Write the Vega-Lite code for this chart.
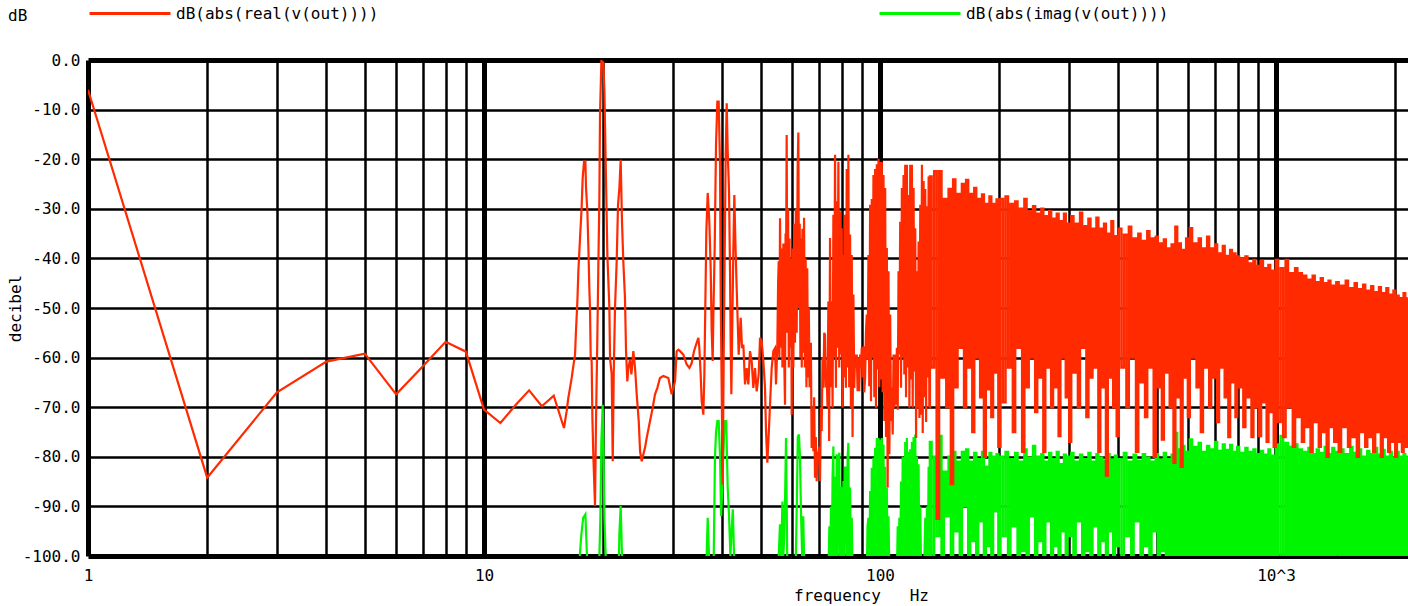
{
"$schema": "https://vega.github.io/schema/vega-lite/v6.json",
"width": 1320, "height": 496,
"padding": {"left": 88, "top": 60, "right": 0, "bottom": 50},
"autosize": {"type": "none"},
"background": "white",
"config": {"view": {"stroke": null}, "font": "DejaVu Sans Mono"},
"title": {"text": "dB", "anchor": "start", "frame": "group", "orient": "top", "offset": 0, "dx": -80, "dy": 60, "font": "DejaVu Sans Mono", "fontSize": 16, "fontWeight": "normal", "color": "black", "baseline": "middle"},
"datasets": {
"red": [
{"f":1,"v":-6},{"f":2,"v":-84.2},{"f":3,"v":-67},{"f":4,"v":-60.8},{"f":5,"v":-59.2},{"f":6,"v":-67.4},{"f":7,"v":-61.8},{"f":8,"v":-56.8},{"f":9,"v":-58.8},{"f":10,"v":-70.5},{"f":11,"v":-73.2},{"f":12,"v":-69.6},{"f":13,"v":-66.6},{"f":14,"v":-69.8},{"f":15,"v":-67.7},{"f":15.92,"v":-74.2},
{"f":16.17,"v":-70.8},{"f":16.33,"v":-68.1},{"f":16.49,"v":-66.1},{"f":16.65,"v":-64.1},{"f":16.81,"v":-61.7},{"f":16.98,"v":-59.4},{"f":17.07,"v":-54.7},{"f":17.21,"v":-48.7},{"f":17.31,"v":-42.6},{"f":17.48,"v":-35.9},{"f":17.64,"v":-29.9},{"f":17.75,"v":-23.8},{"f":17.89,"v":-20.5},{"f":18.03,"v":-20.5},{"f":18.1,"v":-25.8},{"f":18.24,"v":-30.5},{"f":18.35,"v":-37.9},{"f":18.45,"v":-46},{"f":18.52,"v":-50},{"f":18.6,"v":-60.1},{"f":18.7,"v":-60.7},{"f":18.78,"v":-72.1},{"f":18.88,"v":-79.5},{"f":19.07,"v":-89.9},{"f":19.18,"v":-72.8},{"f":19.33,"v":-56},{"f":19.44,"v":-41.9},{"f":19.56,"v":-27.9},{"f":19.63,"v":-11.1},{"f":19.79,"v":-0.2},{"f":20.02,"v":-0.5},{"f":20.14,"v":-6.4},{"f":20.29,"v":-20.5},{"f":20.49,"v":-39.3},{"f":20.73,"v":-50},{"f":20.81,"v":-60.1},{"f":21.01,"v":-63.4},{"f":21.14,"v":-80.9},{"f":21.26,"v":-63.4},{"f":21.42,"v":-50},{"f":21.63,"v":-40.6},{"f":21.8,"v":-29.2},{"f":21.97,"v":-25.8},{"f":22.14,"v":-20.1},{"f":22.31,"v":-32.6},{"f":22.48,"v":-40.6},{"f":22.7,"v":-48},{"f":22.84,"v":-58.7},{"f":23.01,"v":-64.8},{"f":23.15,"v":-62.1},{"f":23.37,"v":-60.4},{"f":23.56,"v":-63.4},{"f":23.83,"v":-58.7},{"f":24.07,"v":-62.1},{"f":24.3,"v":-67.4},{"f":24.59,"v":-72.8},{"f":24.78,"v":-78.9},{"f":25.02,"v":-80.9},{"f":25.26,"v":-79.5},{"f":25.5,"v":-78.2},{"f":25.75,"v":-76.2},{"f":26.26,"v":-72.8},{"f":26.67,"v":-70.1},{"f":27.03,"v":-67.4},{"f":27.4,"v":-66.1},{"f":27.82,"v":-64.1},{"f":28.37,"v":-63.7},{"f":29.21,"v":-64.1},{"f":29.78,"v":-67.4},{"f":30.37,"v":-64.8},{"f":30.66,"v":-58.7},{"f":30.96,"v":-58.4},{"f":31.26,"v":-58.7},{"f":31.87,"v":-59.4},{"f":32.5,"v":-61.4},{"f":33.01,"v":-62.1},{"f":33.46,"v":-61.1},{"f":33.91,"v":-58.7},{"f":34.31,"v":-57.4},{"f":34.78,"v":-56},{"f":34.98,"v":-58.1},{"f":35.25,"v":-63.4},{"f":35.46,"v":-68.8},{"f":35.8,"v":-71.5},{"f":36.01,"v":-63.4},{"f":36.22,"v":-49.3},{"f":36.43,"v":-34.6},{"f":36.72,"v":-26.8},{"f":37.07,"v":-32.6},{"f":37.36,"v":-42},{"f":37.58,"v":-54.7},{"f":37.8,"v":-60.7},{"f":37.95,"v":-51.3},{"f":38.24,"v":-37.9},{"f":38.54,"v":-17.1},{"f":38.84,"v":-8.4},{"f":39.14,"v":-8.4},{"f":39.45,"v":-21.1},{"f":39.6,"v":-47.3},{"f":39.83,"v":-66.1},{"f":40.06,"v":-85.6},{"f":40.3,"v":-59.4},{"f":40.53,"v":-39.3},{"f":40.77,"v":-19.1},{"f":41.01,"v":-8.7},{"f":41.25,"v":-18.5},{"f":41.57,"v":-26.5},{"f":41.81,"v":-42.6},{"f":41.97,"v":-57.4},{"f":42.13,"v":-67.4},{"f":42.38,"v":-52.7},{"f":42.63,"v":-37.9},{"f":42.87,"v":-27.2},{"f":43.13,"v":-36.6},{"f":43.46,"v":-46},{"f":43.72,"v":-52.7},{"f":43.97,"v":-59.4},{"f":44.49,"v":-52},{"f":44.83,"v":-58.1},{"f":45.18,"v":-57.4},{"f":45.62,"v":-65.4},{"f":46.07,"v":-62.1},{"f":46.51,"v":-65.4},{"f":46.96,"v":-58.7},{"f":47.42,"v":-60.7},{"f":47.88,"v":-66.1},{"f":48.35,"v":-62.1},{"f":48.82,"v":-66.8},{"f":49.39,"v":-63.4},{"f":49.78,"v":-56},{"f":50.26,"v":-56.7},{"f":50.75,"v":-60.7},{"f":51.24,"v":-66.1},{"f":51.54,"v":-74.8},{"f":51.94,"v":-81.2},{"f":52.35,"v":-75.5},{"f":52.75,"v":-69.5},{"f":53.27,"v":-62.1},{"f":53.79,"v":-58.7},{"f":54.31,"v":-58.1},{"f":54.63,"v":-65.4},{"f":55.05,"v":-57.4},
{"f":55.3,"v":-45},{"f":55.49,"v":-40.6},{"f":55.7,"v":-60},{"f":55.92,"v":-31.9},{"f":56.2,"v":-58},{"f":56.46,"v":-38},{"f":56.7,"v":-62},{"f":57.01,"v":-37},{"f":57.3,"v":-60},{"f":57.56,"v":-69.5},{"f":57.75,"v":-35},{"f":57.9,"v":-44},{"f":58.12,"v":-15.1},{"f":58.35,"v":-55},{"f":58.6,"v":-30},{"f":58.85,"v":-62},{"f":59.1,"v":-36},{"f":59.4,"v":-58},{"f":59.65,"v":-40},{"f":59.84,"v":-71.5},{"f":60.1,"v":-38},{"f":60.42,"v":-62},{"f":60.7,"v":-33},{"f":61,"v":-57},{"f":61.3,"v":-30},{"f":61.6,"v":-55},{"f":61.95,"v":-22},{"f":62.2,"v":-14.6},{"f":62.45,"v":-50},{"f":62.7,"v":-33},{"f":62.95,"v":-60},{"f":63.2,"v":-36},{"f":63.45,"v":-62},{"f":63.7,"v":-34},{"f":64,"v":-59},{"f":64.3,"v":-31.8},{"f":64.6,"v":-62},{"f":64.9,"v":-40},{"f":65.2,"v":-66},{"f":65.5,"v":-42},{"f":65.8,"v":-64},{"f":66.1,"v":-50},{"f":66.4,"v":-66},
{"f":66.9,"v":-57},{"f":67.21,"v":-78.2},{"f":67.5,"v":-70},{"f":67.87,"v":-78.9},{"f":68.2,"v":-68},{"f":68.53,"v":-84.2},{"f":68.85,"v":-76},{"f":69.2,"v":-84.9},{"f":69.5,"v":-79},{"f":69.87,"v":-80.2},{"f":70.2,"v":-78},{"f":70.56,"v":-84.9},{"f":70.9,"v":-70},{"f":71.24,"v":-74.8},{"f":71.6,"v":-60},{"f":71.94,"v":-66.1},{"f":72.3,"v":-55},
{"f":72.64,"v":-55.4},{"f":73,"v":-66},{"f":73.35,"v":-63.4},{"f":73.7,"v":-70},{"f":74.07,"v":-48.7},{"f":74.4,"v":-76.8},{"f":74.79,"v":-35.9},{"f":75.15,"v":-66},{"f":75.52,"v":-48.7},{"f":75.9,"v":-70.1},{"f":76.26,"v":-31.2},{"f":76.6,"v":-60},{"f":77,"v":-19.1},{"f":77.4,"v":-66.1},{"f":77.75,"v":-28.5},{"f":78.1,"v":-58},{"f":78.51,"v":-20.5},{"f":78.9,"v":-62},{"f":79.27,"v":-30.5},{"f":79.65,"v":-59.4},{"f":80.05,"v":-33.9},{"f":80.45,"v":-70.1},{"f":80.83,"v":-39.3},{"f":81.2,"v":-64},{"f":81.61,"v":-31.2},{"f":82,"v":-66.1},{"f":82.41,"v":-22},{"f":82.8,"v":-62},{"f":83.21,"v":-19.1},{"f":83.6,"v":-66},{"f":84.03,"v":-35.2},{"f":84.45,"v":-70.1},{"f":84.85,"v":-39.3},{"f":85.25,"v":-76},{"f":85.67,"v":-47.3},{"f":86.1,"v":-66.1},{"f":86.51,"v":-59.4},
{"f":86.9,"v":-62},{"f":87.36,"v":-59.4},{"f":87.8,"v":-66.8},{"f":88.21,"v":-60},{"f":88.6,"v":-66.8},{"f":89.07,"v":-59.4},{"f":89.5,"v":-62},{"f":89.94,"v":-58},{"f":90.4,"v":-64},{"f":90.82,"v":-57.7},{"f":91.25,"v":-67},{"f":91.71,"v":-64},{"f":92.15,"v":-55},{"f":92.6,"v":-51.3},
{"f":93.05,"v":-60.4},{"f":93.51,"v":-39.3},{"f":93.95,"v":-65.8},{"f":94.42,"v":-29.2},{"f":94.9,"v":-68.8},{"f":95.34,"v":-28},{"f":95.8,"v":-60},{"f":96.27,"v":-23.2},{"f":96.75,"v":-68},{"f":97.21,"v":-22},{"f":97.7,"v":-70.1},{"f":98.16,"v":-21},{"f":98.6,"v":-62.4},{"f":99.12,"v":-19.9},{"f":99.6,"v":-66},{"f":100.09,"v":-20.5},{"f":100.6,"v":-64.4},{"f":101.06,"v":-20.5},{"f":101.55,"v":-67},{"f":102.05,"v":-23.2},{"f":102.55,"v":-72.8},{"f":103.05,"v":-25.8},{"f":103.55,"v":-76},{"f":104.05,"v":-37.9},{"f":104.55,"v":-86.2},{"f":105.07,"v":-42.6},{"f":105.6,"v":-79.5},{"f":106.09,"v":-51.3},{"f":106.6,"v":-72.8},
{"f":107.13,"v":-66.1},{"f":107.65,"v":-75.5},{"f":108.18,"v":-59.4},{"f":108.7,"v":-70.1},{"f":109.23,"v":-59.4},{"f":109.75,"v":-69.5},{"f":110.3,"v":-58},{"f":110.85,"v":-70.5},
{"f":111.38,"v":-42.6},{"f":111.9,"v":-59.4},{"f":112.47,"v":-32.6},{"f":113,"v":-66.1},{"f":113.56,"v":-25.8},{"f":114.1,"v":-60},{"f":114.67,"v":-23.2},{"f":115.2,"v":-63.4},{"f":115.79,"v":-21.1},{"f":116.35,"v":-68},{"f":116.93,"v":-21.1},{"f":117.5,"v":-62},{"f":118.07,"v":-27.2},{"f":118.65,"v":-70.1},{"f":119.22,"v":-21.1},{"f":119.8,"v":-64.4},{"f":120.39,"v":-21.1},{"f":120.95,"v":-70.1},{"f":121.56,"v":-25.8},{"f":122.15,"v":-62.8},{"f":122.75,"v":-33.9},{"f":123.35,"v":-76.2},{"f":123.95,"v":-42.6},{"f":124.55,"v":-70.1},{"f":125.16,"v":-36.6},{"f":125.75,"v":-72.2},{"f":126.38,"v":-29.2},{"f":127,"v":-71.5},{"f":127.62,"v":-21.1},{"f":128.2,"v":-75.2},
{"f":128.86,"v":-24.4},{"f":129.5,"v":-68},{"f":130.12,"v":-26},{"f":130.75,"v":-73},{"f":131.39,"v":-29.5},{"f":132,"v":-64},{"f":132.68,"v":-23.5},{"f":133.3,"v":-70},
{"f":134,"v":-23.5},{"f":136,"v":-62},{"f":138,"v":-22.4},{"f":140,"v":-92.5},{"f":142,"v":-22.4},{"f":144,"v":-64},{"f":146,"v":-28},{"f":148,"v":-70},{"f":150,"v":-26},{"f":152,"v":-85.5},{"f":154,"v":-24.1},{"f":156,"v":-66},{"f":158,"v":-27},{"f":160,"v":-58},{"f":162,"v":-25},{"f":164,"v":-70},{"f":166,"v":-24.2},{"f":168,"v":-62},{"f":170,"v":-27},{"f":172,"v":-75},{"f":174,"v":-25.8},{"f":176,"v":-60},{"f":178,"v":-28},{"f":180,"v":-68},{"f":182,"v":-27.1},{"f":184,"v":-80},{"f":186,"v":-29},{"f":188,"v":-66.4},{"f":190,"v":-27.5},{"f":192,"v":-72},{"f":194,"v":-29},{"f":196,"v":-63},{"f":198,"v":-28.1},{"f":200,"v":-78},
{"f":203,"v":-28},{"f":206,"v":-69},{"f":209,"v":-27.5},{"f":212,"v":-62},{"f":215,"v":-29},{"f":218,"v":-75},{"f":221,"v":-28.5},{"f":224,"v":-58},{"f":227,"v":-30},{"f":230,"v":-79},{"f":233,"v":-28},{"f":236,"v":-66},{"f":239,"v":-30.5},{"f":242,"v":-60},{"f":245,"v":-29.5},{"f":248,"v":-71},{"f":251,"v":-31},{"f":254,"v":-64},{"f":257,"v":-30},{"f":260,"v":-79},{"f":263,"v":-31.5},{"f":266,"v":-62},{"f":269,"v":-30.5},{"f":272,"v":-70},{"f":275,"v":-32},{"f":278,"v":-66},{"f":281,"v":-31},{"f":284,"v":-75.8},{"f":287,"v":-32.5},{"f":290,"v":-60},{"f":293,"v":-31},{"f":296,"v":-68},{"f":299,"v":-33},
{"f":302,"v":-77},{"f":306,"v":-31.5},{"f":310,"v":-63},{"f":314,"v":-33},{"f":318,"v":-70},{"f":322,"v":-30.8},{"f":326,"v":-58},{"f":330,"v":-33.5},{"f":334,"v":-72},{"f":338,"v":-32},{"f":342,"v":-64},{"f":346,"v":-34},{"f":350,"v":-62},{"f":354,"v":-31.8},{"f":358,"v":-79},{"f":362,"v":-34},{"f":366,"v":-66},{"f":370,"v":-33},{"f":374,"v":-83.8},{"f":378,"v":-35},{"f":382,"v":-64},{"f":386,"v":-32.5},{"f":390,"v":-70},{"f":394,"v":-35.5},{"f":398,"v":-75.8},
{"f":404,"v":-34},{"f":410,"v":-62},{"f":416,"v":-35.2},{"f":422,"v":-70},{"f":428,"v":-33.6},{"f":434,"v":-60},{"f":440,"v":-36},{"f":446,"v":-79},{"f":452,"v":-35},{"f":458,"v":-65},{"f":464,"v":-36.5},{"f":470,"v":-72},{"f":476,"v":-34.5},{"f":482,"v":-62},{"f":488,"v":-36},{"f":494,"v":-80},{"f":500,"v":-35.6},{"f":506,"v":-66},{"f":512,"v":-37},{"f":518,"v":-76.5},{"f":524,"v":-36.2},{"f":530,"v":-63},{"f":536,"v":-38},{"f":542,"v":-70},{"f":548,"v":-37.2},{"f":554,"v":-81.2},{"f":560,"v":-33.6},{"f":566,"v":-68},{"f":572,"v":-37},{"f":578,"v":-82},{"f":584,"v":-38.3},{"f":590,"v":-64},{"f":596,"v":-36},
{"f":602,"v":-72},{"f":610,"v":-33.9},{"f":618,"v":-60},{"f":626,"v":-37},{"f":634,"v":-66},{"f":642,"v":-36},{"f":650,"v":-75},{"f":658,"v":-38},{"f":666,"v":-62},{"f":674,"v":-35.6},{"f":682,"v":-70},{"f":690,"v":-38},{"f":698,"v":-64},{"f":706,"v":-37.2},{"f":714,"v":-73},{"f":722,"v":-39},{"f":730,"v":-62},{"f":738,"v":-37.5},{"f":746,"v":-68},{"f":754,"v":-39.5},{"f":762,"v":-76},{"f":770,"v":-38.3},{"f":778,"v":-65},{"f":786,"v":-39},{"f":794,"v":-72},
{"f":802,"v":-39.6},{"f":812,"v":-66},{"f":822,"v":-40},{"f":832,"v":-74},{"f":842,"v":-39.6},{"f":852,"v":-68},{"f":862,"v":-41},{"f":872,"v":-76},{"f":882,"v":-40.3},{"f":892,"v":-70},{"f":902,"v":-41.5},{"f":912,"v":-75.8},{"f":922,"v":-40.5},{"f":932,"v":-69},{"f":942,"v":-42},{"f":952,"v":-77},{"f":962,"v":-41.3},{"f":972,"v":-71},{"f":982,"v":-42.5},{"f":992,"v":-78},
{"f":1005,"v":-40.3},{"f":1020,"v":-73},{"f":1035,"v":-42},{"f":1050,"v":-76},{"f":1065,"v":-40.3},{"f":1080,"v":-70},{"f":1095,"v":-43},{"f":1110,"v":-78},{"f":1125,"v":-42},{"f":1140,"v":-72},{"f":1155,"v":-43},{"f":1170,"v":-77},{"f":1185,"v":-43.5},{"f":1200,"v":-74},{"f":1215,"v":-44.3},{"f":1230,"v":-79},{"f":1245,"v":-43.5},{"f":1260,"v":-73},{"f":1275,"v":-44.8},{"f":1290,"v":-78},{"f":1305,"v":-44},{"f":1320,"v":-75},{"f":1335,"v":-45},{"f":1350,"v":-80},{"f":1365,"v":-44.5},{"f":1380,"v":-74},{"f":1395,"v":-45.5},
{"f":1410,"v":-77},{"f":1430,"v":-44.8},{"f":1450,"v":-79},{"f":1470,"v":-45.5},{"f":1490,"v":-74},{"f":1510,"v":-44.5},{"f":1530,"v":-78},{"f":1550,"v":-46},{"f":1570,"v":-76},{"f":1590,"v":-45},{"f":1610,"v":-80},{"f":1630,"v":-46.2},{"f":1650,"v":-75},{"f":1670,"v":-45.3},{"f":1690,"v":-78},{"f":1710,"v":-46.5},{"f":1730,"v":-76},{"f":1750,"v":-45.6},{"f":1770,"v":-79},{"f":1790,"v":-46.8},{"f":1810,"v":-75},{"f":1830,"v":-45.8},{"f":1850,"v":-80},{"f":1870,"v":-47},{"f":1890,"v":-76},{"f":1910,"v":-46},{"f":1930,"v":-79},{"f":1950,"v":-47.3},{"f":1970,"v":-77},{"f":1990,"v":-46.5},{"f":2010,"v":-80},{"f":2030,"v":-47.5},{"f":2050,"v":-77},{"f":2070,"v":-48},{"f":2090,"v":-79},{"f":2110,"v":-47},{"f":2130,"v":-78},{"f":2150,"v":-48}
],
"green": [
{"f":16.9,"v":-110},{"f":17.3,"v":-104},{"f":17.6,"v":-96},{"f":17.8,"v":-92.3},{"f":18.03,"v":-91.6},{"f":18.2,"v":-100},{"f":18.4,"v":-110},{"f":19.4,"v":-110},{"f":19.56,"v":-100},{"f":19.67,"v":-92.3},{"f":19.79,"v":-76.8},{"f":19.94,"v":-69.5},{"f":20.02,"v":-76.8},{"f":20.14,"v":-92.3},{"f":20.29,"v":-100},{"f":20.5,"v":-110},{"f":21.8,"v":-110},{"f":21.97,"v":-95.6},{"f":22.14,"v":-89.9},{"f":22.31,"v":-100},{"f":22.5,"v":-110},
{"f":36.3,"v":-110},{"f":36.5,"v":-100},{"f":36.72,"v":-92.3},{"f":37,"v":-100},{"f":37.2,"v":-110},{"f":37.9,"v":-110},{"f":38.1,"v":-95},{"f":38.3,"v":-80.2},{"f":38.54,"v":-75},{"f":38.84,"v":-72.8},{"f":39.14,"v":-72.8},{"f":39.45,"v":-80},{"f":39.7,"v":-92},{"f":39.95,"v":-87},{"f":40.2,"v":-80},{"f":40.53,"v":-72.8},{"f":40.9,"v":-72.8},{"f":41.25,"v":-86.2},{"f":41.57,"v":-91.9},{"f":41.9,"v":-100},{"f":42.13,"v":-96},{"f":42.5,"v":-90.6},{"f":42.8,"v":-100},{"f":43,"v":-110},
{"f":55,"v":-110},{"f":55.5,"v":-100},{"f":55.9,"v":-93.6},{"f":56.3,"v":-100},{"f":56.7,"v":-89},{"f":57,"v":-100},{"f":57.3,"v":-96},{"f":57.6,"v":-88},{"f":57.9,"v":-76.2},{"f":58.3,"v":-100},{"f":58.7,"v":-110},{"f":60.8,"v":-110},{"f":61.3,"v":-100},{"f":61.7,"v":-88},{"f":62,"v":-76},{"f":62.4,"v":-75.5},{"f":62.8,"v":-80},{"f":63.2,"v":-92},{"f":63.6,"v":-100},{"f":64,"v":-92},{"f":64.3,"v":-100},{"f":64.6,"v":-110},
{"f":73.5,"v":-110},{"f":74.07,"v":-104},{"f":74.5,"v":-94},{"f":74.79,"v":-104},{"f":75.2,"v":-90},{"f":75.52,"v":-104},{"f":75.9,"v":-84},{"f":76.26,"v":-77.9},{"f":76.6,"v":-104},{"f":77,"v":-84},{"f":77.4,"v":-104},{"f":77.75,"v":-79.5},{"f":78.1,"v":-104},{"f":78.5,"v":-80},{"f":78.96,"v":-79.2},{"f":79.3,"v":-104},{"f":79.7,"v":-86},{"f":80.05,"v":-88.9},{"f":80.45,"v":-104},{"f":80.83,"v":-84.9},{"f":81.2,"v":-104},{"f":81.6,"v":-82.2},{"f":82.09,"v":-82.2},{"f":82.5,"v":-104},{"f":82.85,"v":-80},{"f":83.21,"v":-77.2},{"f":83.6,"v":-104},{"f":84.03,"v":-86.2},{"f":84.45,"v":-104},{"f":84.85,"v":-92.3},{"f":85.3,"v":-104},{"f":85.67,"v":-100},{"f":86.2,"v":-110},
{"f":92.2,"v":-110},{"f":92.6,"v":-104},{"f":93,"v":-94},{"f":93.5,"v":-92.3},{"f":93.9,"v":-104},{"f":94.42,"v":-86.9},{"f":94.9,"v":-104},{"f":95.34,"v":-82.2},{"f":95.8,"v":-104},{"f":96.27,"v":-80.2},{"f":96.75,"v":-104},{"f":97.21,"v":-78.2},{"f":97.7,"v":-104},{"f":98.16,"v":-76.2},{"f":98.6,"v":-104},{"f":99.12,"v":-76.2},{"f":99.6,"v":-104},{"f":100.09,"v":-76.5},{"f":100.6,"v":-104},{"f":101.06,"v":-76.2},{"f":101.55,"v":-104},{"f":102.05,"v":-77.5},{"f":102.55,"v":-104},{"f":103.05,"v":-82},{"f":103.55,"v":-104},{"f":104.05,"v":-86.2},{"f":104.55,"v":-104},{"f":105.07,"v":-92},{"f":105.6,"v":-104},{"f":106.09,"v":-100},{"f":106.6,"v":-110},
{"f":109.8,"v":-110},{"f":110.3,"v":-104},{"f":110.85,"v":-94},{"f":111.38,"v":-104},{"f":111.9,"v":-92.3},{"f":112.47,"v":-104},{"f":113,"v":-85},{"f":113.56,"v":-104},{"f":114.1,"v":-80},{"f":114.67,"v":-81.2},{"f":115.2,"v":-104},{"f":115.79,"v":-77},{"f":116.35,"v":-104},{"f":116.93,"v":-76.2},{"f":117.5,"v":-104},{"f":118.07,"v":-79},{"f":118.65,"v":-104},{"f":119.22,"v":-78.5},{"f":119.8,"v":-104},{"f":120.39,"v":-77},{"f":120.95,"v":-104},{"f":121.56,"v":-76},{"f":122.15,"v":-104},{"f":122.75,"v":-75.5},{"f":123.35,"v":-104},{"f":123.95,"v":-80},{"f":124.55,"v":-104},{"f":125.16,"v":-81.5},{"f":125.75,"v":-104},{"f":126.38,"v":-90},{"f":127,"v":-104},{"f":127.62,"v":-100},{"f":128.2,"v":-110},{"f":129.5,"v":-100},{"f":130.12,"v":-92.3},{"f":130.75,"v":-104},{"f":131.39,"v":-90},{"f":132,"v":-104},{"f":132.68,"v":-82},{"f":133.3,"v":-104},
{"f":134,"v":-77},{"f":136,"v":-104},{"f":138,"v":-80},{"f":140,"v":-96},{"f":142,"v":-75.8},{"f":144,"v":-104},{"f":146,"v":-83},{"f":148,"v":-92},{"f":150,"v":-80},{"f":152,"v":-104},{"f":154,"v":-79},{"f":156,"v":-95},{"f":158,"v":-81},{"f":160,"v":-104},{"f":162,"v":-79},{"f":164,"v":-90},{"f":166,"v":-78.5},{"f":168,"v":-104},{"f":170,"v":-81},{"f":172,"v":-97},{"f":174,"v":-79.2},{"f":176,"v":-104},{"f":178,"v":-80.5},{"f":180,"v":-93},{"f":182,"v":-79},{"f":184,"v":-104},{"f":186,"v":-82},{"f":188,"v":-98},{"f":190,"v":-79.2},{"f":192,"v":-104},{"f":194,"v":-80},{"f":196,"v":-91},{"f":198,"v":-79.5},{"f":200,"v":-104},
{"f":203,"v":-80},{"f":206,"v":-96},{"f":209,"v":-79},{"f":212,"v":-104},{"f":215,"v":-80.5},{"f":218,"v":-94},{"f":221,"v":-79.2},{"f":224,"v":-104},{"f":227,"v":-81},{"f":230,"v":-99},{"f":233,"v":-78.5},{"f":236,"v":-104},{"f":239,"v":-80.2},{"f":242,"v":-92},{"f":245,"v":-77.8},{"f":248,"v":-104},{"f":251,"v":-80},{"f":254,"v":-97},{"f":257,"v":-79.5},{"f":260,"v":-104},{"f":263,"v":-81},{"f":266,"v":-93},{"f":269,"v":-79.2},{"f":272,"v":-104},{"f":275,"v":-80.5},{"f":278,"v":-98},{"f":281,"v":-79},{"f":284,"v":-104},{"f":287,"v":-81.5},{"f":290,"v":-95},{"f":293,"v":-79.6},{"f":296,"v":-104},{"f":299,"v":-80},
{"f":302,"v":-96},{"f":306,"v":-79.2},{"f":310,"v":-104},{"f":314,"v":-81},{"f":318,"v":-93},{"f":322,"v":-79.6},{"f":326,"v":-104},{"f":330,"v":-80.5},{"f":334,"v":-99},{"f":338,"v":-79.2},{"f":342,"v":-104},{"f":346,"v":-81},{"f":350,"v":-94},{"f":354,"v":-79.5},{"f":358,"v":-104},{"f":362,"v":-80.2},{"f":366,"v":-97},{"f":370,"v":-80.8},{"f":374,"v":-104},{"f":378,"v":-79.5},{"f":382,"v":-95},{"f":386,"v":-80.6},{"f":390,"v":-104},{"f":394,"v":-79.8},{"f":398,"v":-98},
{"f":404,"v":-80.5},{"f":410,"v":-104},{"f":416,"v":-79.2},{"f":422,"v":-96},{"f":428,"v":-81},{"f":434,"v":-104},{"f":440,"v":-79.6},{"f":446,"v":-93},{"f":452,"v":-80.8},{"f":458,"v":-104},{"f":464,"v":-79.5},{"f":470,"v":-98},{"f":476,"v":-80.2},{"f":482,"v":-104},{"f":488,"v":-81},{"f":494,"v":-95},{"f":500,"v":-79.5},{"f":506,"v":-104},{"f":512,"v":-80.6},{"f":518,"v":-99},{"f":524,"v":-79.2},{"f":530,"v":-104},{"f":536,"v":-80.5},{"f":542,"v":-104},{"f":548,"v":-79.6},{"f":554,"v":-104},{"f":560,"v":-75.2},{"f":566,"v":-104},{"f":572,"v":-78.5},{"f":578,"v":-104},{"f":584,"v":-77.8},{"f":590,"v":-104},{"f":596,"v":-79},
{"f":602,"v":-104},{"f":610,"v":-76.5},{"f":618,"v":-104},{"f":626,"v":-78},{"f":634,"v":-104},{"f":642,"v":-77.2},{"f":650,"v":-104},{"f":658,"v":-79},{"f":666,"v":-104},{"f":674,"v":-77.8},{"f":682,"v":-104},{"f":690,"v":-78.5},{"f":698,"v":-104},{"f":706,"v":-77},{"f":714,"v":-104},{"f":722,"v":-78.8},{"f":730,"v":-104},{"f":738,"v":-77.5},{"f":746,"v":-104},{"f":754,"v":-78.6},{"f":762,"v":-104},{"f":770,"v":-77.6},{"f":778,"v":-104},{"f":786,"v":-79},{"f":794,"v":-104},
{"f":802,"v":-78},{"f":812,"v":-104},{"f":822,"v":-79.2},{"f":832,"v":-104},{"f":842,"v":-78.2},{"f":852,"v":-104},{"f":862,"v":-79},{"f":872,"v":-104},{"f":882,"v":-78.5},{"f":892,"v":-104},{"f":902,"v":-79.5},{"f":912,"v":-104},{"f":922,"v":-78.8},{"f":932,"v":-104},{"f":942,"v":-79.6},{"f":952,"v":-104},{"f":962,"v":-78.5},{"f":972,"v":-104},{"f":982,"v":-79.8},{"f":992,"v":-104},
{"f":1005,"v":-77.5},{"f":1020,"v":-104},{"f":1035,"v":-75.8},{"f":1050,"v":-104},{"f":1065,"v":-77.2},{"f":1080,"v":-104},{"f":1095,"v":-78},{"f":1110,"v":-104},{"f":1125,"v":-77.5},{"f":1140,"v":-104},{"f":1155,"v":-78.5},{"f":1170,"v":-104},{"f":1185,"v":-79},{"f":1200,"v":-104},{"f":1215,"v":-78.2},{"f":1230,"v":-104},{"f":1245,"v":-79.5},{"f":1260,"v":-104},{"f":1275,"v":-78.5},{"f":1290,"v":-104},{"f":1305,"v":-79.2},{"f":1320,"v":-104},{"f":1335,"v":-78},{"f":1350,"v":-104},{"f":1365,"v":-79.5},{"f":1380,"v":-104},{"f":1395,"v":-78.2},
{"f":1410,"v":-104},{"f":1430,"v":-79},{"f":1450,"v":-104},{"f":1470,"v":-78.5},{"f":1490,"v":-104},{"f":1510,"v":-79.5},{"f":1530,"v":-104},{"f":1550,"v":-78},{"f":1570,"v":-104},{"f":1590,"v":-79.2},{"f":1610,"v":-104},{"f":1630,"v":-78.5},{"f":1650,"v":-104},{"f":1670,"v":-80},{"f":1690,"v":-104},{"f":1710,"v":-78.8},{"f":1730,"v":-104},{"f":1750,"v":-79.5},{"f":1770,"v":-104},{"f":1790,"v":-78.2},{"f":1810,"v":-104},{"f":1830,"v":-79.6},{"f":1850,"v":-104},{"f":1870,"v":-78.6},{"f":1890,"v":-104},{"f":1910,"v":-80},{"f":1930,"v":-104},{"f":1950,"v":-79},{"f":1970,"v":-104},{"f":1990,"v":-80.2},{"f":2010,"v":-104},{"f":2030,"v":-79},{"f":2050,"v":-104},{"f":2070,"v":-80},{"f":2090,"v":-104},{"f":2110,"v":-79.5},{"f":2130,"v":-104},{"f":2150,"v":-80}
]
},
"encoding": {
"x": {"field": "f", "type": "quantitative",
 "scale": {"type": "log", "domain": [1, 2154.4], "nice": false},
 "axis": {"values": [1,2,3,4,5,6,7,8,9,10,20,30,40,50,60,70,80,90,100,200,300,400,500,600,700,800,900,1000,2000],
  "labelExpr": "datum.value == 1 ? '1' : datum.value == 10 ? '10' : datum.value == 100 ? '100' : datum.value == 1000 ? '10^3' : ''",
  "grid": true, "gridColor": "black", "gridOpacity": 1,
  "gridWidth": {"condition": {"test": "datum.value == 1 || datum.value == 10 || datum.value == 100 || datum.value == 1000", "value": 5}, "value": 2.5},
  "domain": false, "ticks": false, "tickSize": 0, "labelPadding": 11, "labelFlush": false, "labelOverlap": false,
  "labelFont": "DejaVu Sans Mono", "labelFontSize": 16, "labelColor": "black",
  "title": "frequency\u00a0\u00a0\u00a0Hz", "titleFont": "DejaVu Sans Mono", "titleFontSize": 16, "titleFontWeight": "normal", "titleColor": "black",
  "titleX": 773, "titleY": 39, "titleAlign": "center", "titleBaseline": "middle"}},
"y": {"field": "v", "type": "quantitative",
 "scale": {"domain": [-100, 0], "nice": false, "zero": false},
 "axis": {"values": [-100,-90,-80,-70,-60,-50,-40,-30,-20,-10,0],
  "labelExpr": "(datum.value < 0 ? '-' : '') + format(abs(datum.value), '.1f')",
  "grid": true, "gridColor": "black", "gridOpacity": 1,
  "gridWidth": {"condition": {"test": "datum.value == 0 || datum.value == -100", "value": 5}, "value": 2.5},
  "domain": false, "ticks": false, "tickSize": 0, "labelPadding": 8,
  "labelFont": "DejaVu Sans Mono", "labelFontSize": 16, "labelColor": "black",
  "title": "decibel", "titleFont": "DejaVu Sans Mono", "titleFontSize": 16, "titleFontWeight": "normal", "titleColor": "black",
  "titleX": -73, "titleY": 248, "titleAngle": 270, "titleAlign": "center", "titleBaseline": "middle"}},
"color": {"datum": "dB(abs(real(v(out))))",
  "scale": {"domain": ["dB(abs(real(v(out))))", "dB(abs(imag(v(out))))"], "range": ["#ff2a00", "#00f500"]},
  "legend": {"title": null, "orient": "none", "legendX": 0, "legendY": -88.5, "direction": "horizontal", "symbolType": "stroke", "symbolSize": 6561, "symbolStrokeWidth": 3, "labelFont": "DejaVu Sans Mono", "labelFontSize": 16, "labelColor": "black", "labelOffset": 4, "columnPadding": 494, "padding": 0, "labelLimit": 500}}
},
"layer": [
{"data": {"name": "green"}, "transform": [{"filter": "datum.f <= 134"}],
 "mark": {"type": "line", "strokeWidth": 2.2, "clip": true},
 "encoding": {"color": {"datum": "dB(abs(imag(v(out))))"}}},
{"data": {"name": "green"}, "transform": [{"filter": "datum.f >= 133.3"}],
 "mark": {"type": "line", "strokeWidth": 2.4, "clip": true, "interpolate": "step"},
 "encoding": {"color": {"datum": "dB(abs(imag(v(out))))"}}},
{"data": {"name": "red"}, "transform": [{"filter": "datum.f <= 134"}],
 "mark": {"type": "line", "strokeWidth": 2.2, "clip": true},
 "encoding": {"color": {"datum": "dB(abs(real(v(out))))"}}},
{"data": {"name": "red"}, "transform": [{"filter": "datum.f >= 133.3"}],
 "mark": {"type": "line", "strokeWidth": 2.4, "clip": true, "interpolate": "step"},
 "encoding": {"color": {"datum": "dB(abs(real(v(out))))"}}}
]
}
